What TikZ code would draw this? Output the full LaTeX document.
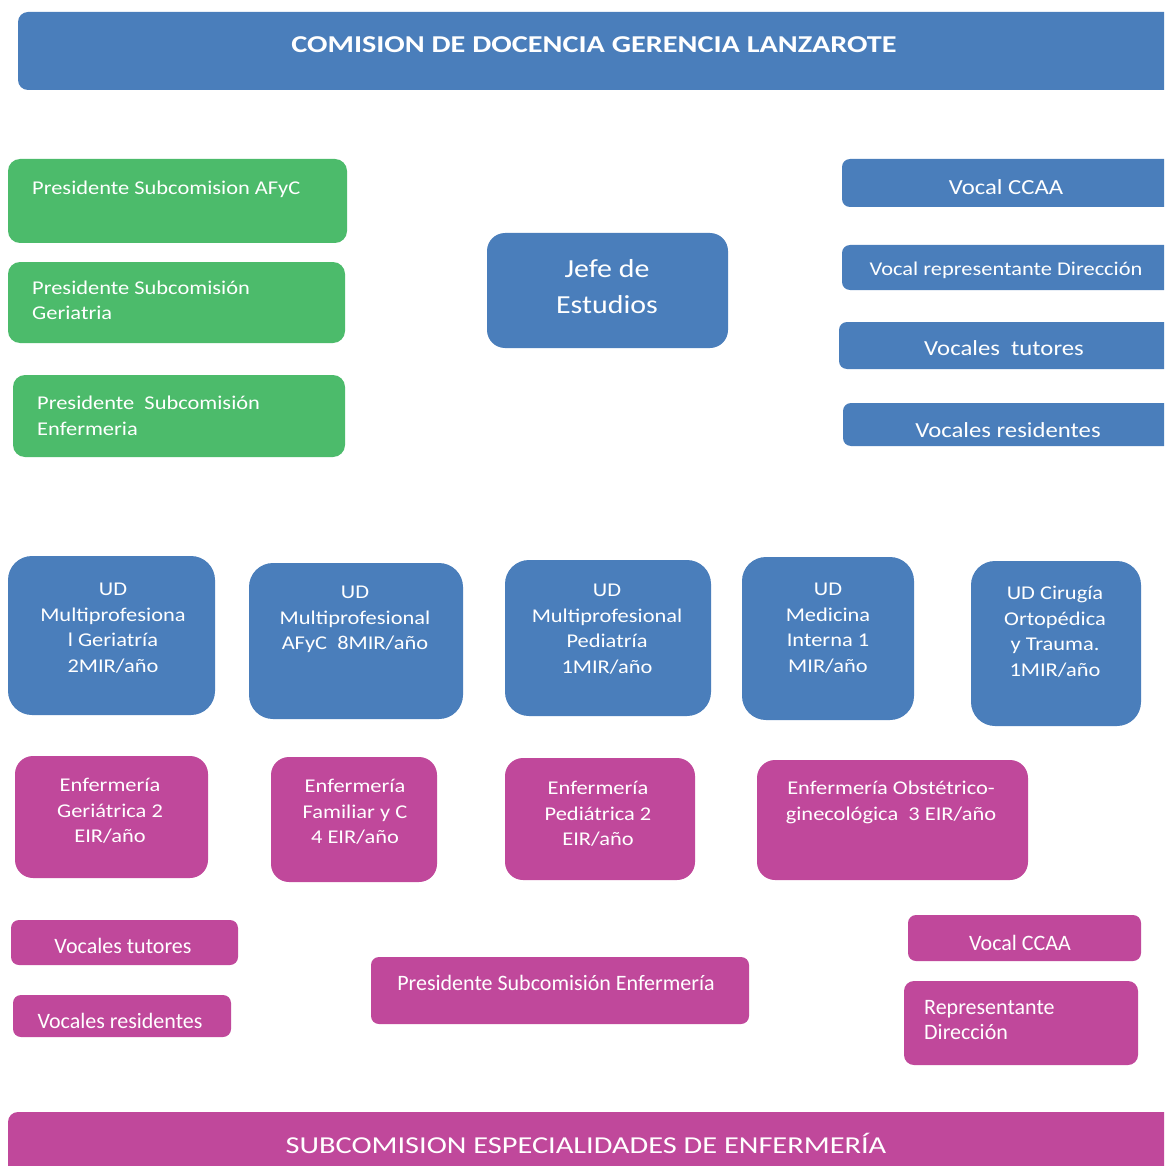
\documentclass[tikz,border=0pt]{standalone}
\usepackage{fontspec}
\setmainfont{Carlito}[FakeStretch=1.15]
\newfontfamily\plainfont{Carlito}
\newfontfamily\headfont{Carlito}[FakeStretch=1.25]
\usepackage{xcolor}
\usepackage{tikz}
\usetikzlibrary{fit}
\definecolor{ComBlue}{HTML}{4A7EBB}
\definecolor{ComGreen}{HTML}{4CBB6B}
\definecolor{ComPink}{HTML}{C0489B}
\newcommand{\setfs}[2]{\fontsize{#1}{#2}\selectfont}

\begin{document}
\begin{tikzpicture}[x=1pt, y=-1pt,
  bx/.style={rounded corners=#1, inner sep=0pt}, bx/.default=10pt,
  lb/.style={text=white, inner sep=0pt, font=\setfs{19.5}{25.5}},
  ct/.style={lb, align=center, anchor=north},
  lt/.style={lb, align=left, anchor=north west},
  sl/.style={lb, anchor=base},
  bt/.style={lb, anchor=base, font=\plainfont\setfs{22}{25}}]
\clip (0,0) rectangle (1164,1166);
\fill[white] (0,0) rectangle (1164,1166);
% comision
\node[bx, fill=ComBlue, fit={(18,12) (1180,90)}] (com) {};
\node[sl, font=\headfont\bfseries\setfs{24.2}{28}] (comT) at (594,53) {COMISION DE DOCENCIA GERENCIA LANZAROTE};
% presidentes subcomisiones
\node[bx=12pt, fill=ComGreen, fit={(8,159) (347,243)}] (pAFyC) {};
\node[sl, anchor=base west] (pAFyCT) at (32,195) {Presidente Subcomision AFyC};
\node[bx=12pt, fill=ComGreen, fit={(8,262) (345,343)}] (pGer) {};
\node[lt, font=\setfs{19.5}{25}] (pGerT) at (32,281) {Presidente Subcomisión\\Geriatria};
\node[bx=12pt, fill=ComGreen, fit={(13,375) (345,457)}] (pEnf) {};
\node[lt, font=\setfs{19.5}{26}] (pEnfT) at (37,396) {Presidente~~Subcomisión\\Enfermeria};
% jefe de estudios
\node[bx=18pt, fill=ComBlue, fit={(487,233) (728,348)}] (jefe) {};
\node[lb, align=center, font=\setfs{26}{36}] (jefeT) at (607,287) {Jefe de\\Estudios};
% vocales
\node[bx=8pt, fill=ComBlue, fit={(842,159) (1180,207)}] (vCCAA) {};
\node[sl, font=\setfs{21.5}{25}] (vCCAAT) at (1006,195) {Vocal CCAA};
\node[bx=8pt, fill=ComBlue, fit={(842,245) (1180,290)}] (vDir) {};
\node[sl] (vDirT) at (1006,275) {Vocal representante Dirección};
\node[bx=8pt, fill=ComBlue, fit={(839,322) (1180,369)}] (vTut) {};
\node[sl, font=\setfs{21.5}{25}] (vTutT) at (1004,355) {Vocales~~tutores};
\node[bx=8pt, fill=ComBlue, fit={(843,403) (1180,446)}] (vRes) {};
\node[sl, font=\setfs{21.5}{25}] (vResT) at (1008,437) {Vocales residentes};
% unidades docentes
\node[bx=24pt, fill=ComBlue, fit={(8,556) (215,715)}] (udGer) {};
\node[ct] (udGerT) at (113,583) {UD\\Multiprofesiona\\l Geriatría\\2MIR/año};
\node[bx=24pt, fill=ComBlue, fit={(249,563) (463,719)}] (udAFyC) {};
\node[ct] (udAFyCT) at (355,586) {UD\\Multiprofesional\\AFyC~~8MIR/año};
\node[bx=24pt, fill=ComBlue, fit={(505,560) (711,716)}] (udPed) {};
\node[ct] (udPedT) at (607,584) {UD\\Multiprofesional\\Pediatría\\1MIR/año};
\node[bx=24pt, fill=ComBlue, fit={(742,557) (914,720)}] (udMI) {};
\node[ct] (udMIT) at (828,583) {UD\\Medicina\\Interna 1\\MIR/año};
\node[bx=24pt, fill=ComBlue, fit={(971,561) (1141,726)}] (udCOT) {};
\node[ct] (udCOTT) at (1055,586) {UD Cirugía\\Ortopédica\\y Trauma.\\1MIR/año};
% enfermeria
\node[bx=18pt, fill=ComPink, fit={(15,756) (208,878)}] (eGer) {};
\node[ct] (eGerT) at (110,778) {Enfermería\\Geriátrica 2\\EIR/año};
\node[bx=18pt, fill=ComPink, fit={(271,757) (437,882)}] (eFam) {};
\node[ct] (eFamT) at (355,779) {Enfermería\\Familiar y C\\4 EIR/año};
\node[bx=18pt, fill=ComPink, fit={(505,758) (695,880)}] (ePed) {};
\node[ct] (ePedT) at (598,781) {Enfermería\\Pediátrica 2\\EIR/año};
\node[bx=18pt, fill=ComPink, fit={(757,760) (1028,880)}] (eObs) {};
\node[ct] (eObsT) at (891,781) {Enfermería Obstétrico-\\ginecológica~~3 EIR/año};
% subcomision enfermeria
\node[bx=8pt, fill=ComPink, fit={(11,920) (238,965)}] (sTut) {};
\node[bt] (sTutT) at (123,953) {Vocales tutores};
\node[bx=8pt, fill=ComPink, fit={(13,995) (231,1037)}] (sRes) {};
\node[bt] (sResT) at (120,1028) {Vocales residentes};
\node[bx=8pt, fill=ComPink, fit={(371,957) (749,1024)}] (sPres) {};
\node[bt] (sPresT) at (556,990) {Presidente Subcomisión Enfermería};
\node[bx=8pt, fill=ComPink, fit={(908,915) (1141,961)}] (sCCAA) {};
\node[bt] (sCCAAT) at (1020,950) {Vocal CCAA};
\node[bx=10pt, fill=ComPink, fit={(904,981) (1138,1065)}] (sDir) {};
\node[lt, font=\plainfont\setfs{22}{25}] (sDirT) at (924,1000) {Representante\\Dirección};
\node[bx, fill=ComPink, fit={(8,1112) (1180,1190)}] (sub) {};
\node[sl, font=\headfont\setfs{24.3}{28}] (subT) at (586,1153) {SUBCOMISION ESPECIALIDADES DE ENFERMERÍA};
\end{tikzpicture}
\end{document}
